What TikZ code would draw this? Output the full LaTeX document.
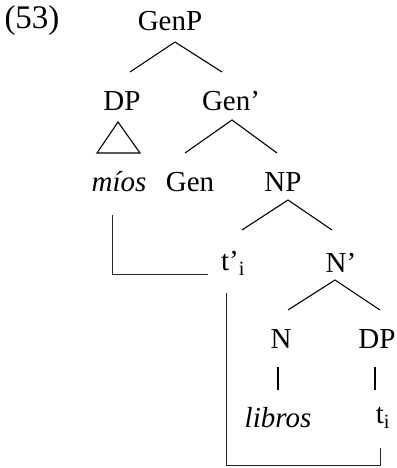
\documentclass[tikz,border=0pt]{standalone}
\usepackage{fontspec}
\setmainfont{Liberation Serif}
\begin{document}
\begin{tikzpicture}[x=1pt,y=-1pt,
  lab/.style={inner sep=0pt,font=\fontsize{29}{31}\selectfont},
  br/.style={line width=1.1pt,black},
  mv/.style={line width=0.9pt,black!85}]
\useasboundingbox (0,0) rectangle (396,468);
% labels
\node[lab,font=\fontsize{33}{35}\selectfont] (ex) at (32,21) {(53)};
\node[lab] (GenP) at (170,21) {GenP};
\node[lab] (DP) at (122,101) {DP};
\node[lab] (GenB) at (231,101) {Gen’};
\node[lab] (mios) at (119,182) {\itshape míos};
\node[lab] (Gen) at (190,182) {Gen};
\node[lab] (NP) at (283,182) {NP};
\node[lab] (tp) at (233,263) {t’\textsubscript{i}};
\node[lab] (NB) at (341,263) {N’};
\node[lab] (N) at (281,339) {N};
\node[lab] (DPb) at (377,339) {DP};
\node[lab] (libros) at (278,418) {\itshape libros};
\node[lab] (t) at (383,418) {t\textsubscript{i}};
% branch points
\coordinate (GenP-b) at (175,42);
\coordinate (DP-t) at (130,72);
\coordinate (GenB-t) at (222,72);
\coordinate (Tri-a) at (118,122);
\coordinate (Tri-l) at (97,153);
\coordinate (Tri-r) at (140,153);
\coordinate (GenB-b) at (232,120);
\coordinate (Gen-t) at (185,153);
\coordinate (NP-t) at (277,153);
\coordinate (NP-b) at (288,200);
\coordinate (tp-t) at (242,230);
\coordinate (NB-t) at (332,230);
\coordinate (NB-b) at (335,280);
\coordinate (N-t) at (288,310);
\coordinate (DPb-t) at (380,310);
\coordinate (N-b) at (278,367);
\coordinate (libros-t) at (278,390);
\coordinate (DPb-b) at (375,367);
\coordinate (t-t) at (375,390);
\coordinate (m1a) at (112,215);
\coordinate (m1b) at (112,274);
\coordinate (m1c) at (208,274);
\coordinate (m2a) at (226,293);
\coordinate (m2b) at (226,465);
\coordinate (m2c) at (380,465);
\coordinate (m2d) at (380,448);
% branches
\draw[br] (DP-t) -- (GenP-b) -- (GenB-t);
\draw[br] (Tri-a) -- (Tri-l) -- (Tri-r) -- cycle;
\draw[br] (Gen-t) -- (GenB-b) -- (NP-t);
\draw[br] (tp-t) -- (NP-b) -- (NB-t);
\draw[br] (N-t) -- (NB-b) -- (DPb-t);
\draw[br] (N-b) -- (libros-t);
\draw[br] (DPb-b) -- (t-t);
% movement lines
\draw[mv] (m1a) -- (m1b) -- (m1c);
\draw[mv] (m2a) -- (m2b) -- (m2c) -- (m2d);
\end{tikzpicture}
\end{document}
